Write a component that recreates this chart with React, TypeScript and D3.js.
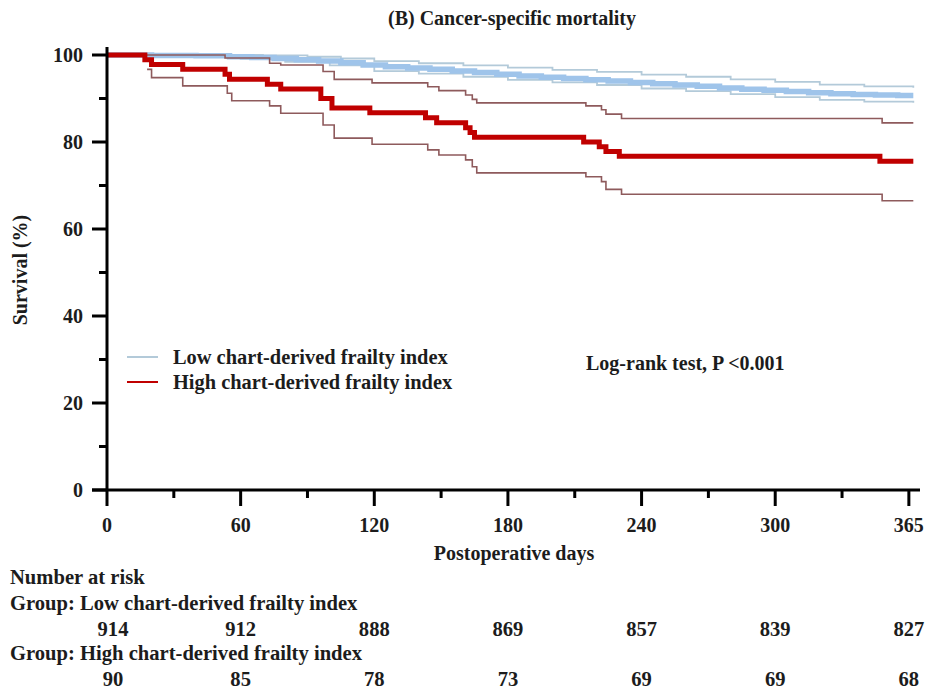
import React from "react";
import * as d3 from "d3";

const title = "(B) Cancer-specific mortality";
const xTicks = [0, 60, 120, 180, 240, 300, 360];
const xTickLabels = ["0", "60", "120", "180", "240", "300", "365"];
const xMinorTicks = [30, 90, 150, 210, 270, 330];
const yTicks = [0, 20, 40, 60, 80, 100];
const yMinorTicks = [10, 30, 50, 70, 90];

// Low chart-derived frailty index (day, survival %)
const lowMain: [number, number][] = [
  [0, 100], [20, 99.9], [40, 99.8], [55, 99.6], [65, 99.4], [75, 99.2], [85, 98.9], [95, 98.6],
  [105, 98.2], [115, 97.7], [125, 97.3], [135, 97.0], [145, 96.7], [155, 96.3], [165, 96.0],
  [175, 95.6], [185, 95.2], [195, 94.9], [205, 94.6], [215, 94.3], [225, 94.0], [235, 93.7],
  [245, 93.4], [255, 93.1], [265, 92.8], [275, 92.4], [285, 92.1], [295, 91.9], [305, 91.6],
  [315, 91.3], [325, 91.1], [335, 90.9], [345, 90.8], [355, 90.7], [362, 90.7],
];
const lowUpper: [number, number][] = [
  [0, 100], [50, 100], [70, 99.9], [90, 99.6], [105, 99.2], [120, 98.6], [140, 98.1], [160, 97.6],
  [180, 97.1], [200, 96.6], [220, 96.1], [240, 95.5], [260, 95.0], [280, 94.4], [300, 93.8],
  [320, 93.2], [340, 92.8], [362, 92.5],
];
const lowLower: [number, number][] = [
  [0, 100], [40, 99.6], [60, 99.1], [80, 98.4], [100, 97.6], [120, 96.3], [140, 95.7], [160, 95.0],
  [180, 94.3], [200, 93.7], [220, 93.1], [240, 92.3], [260, 91.7], [280, 91.0], [300, 90.3],
  [320, 89.7], [340, 89.3], [362, 89.0],
];

// High chart-derived frailty index (day, survival %)
const highMain: [number, number][] = [
  [0, 100], [17, 98.9], [20, 97.8], [34, 96.7], [53, 95.6], [55, 94.4], [72, 93.3], [78, 92.2],
  [96, 90.0], [101, 87.8], [118, 86.7], [143, 85.6], [148, 84.4], [161, 83.3], [163, 82.2],
  [165, 81.1], [214, 80.0], [221, 78.9], [224, 77.8], [230, 76.7], [347, 75.6], [362, 75.6],
];
const highUpper: [number, number][] = [
  [0, 100], [53, 99.3], [73, 98.1], [78, 97.7], [97, 96.2], [102, 94.4], [119, 93.6], [144, 92.7],
  [149, 91.8], [161, 90.8], [164, 89.8], [166, 89.0], [215, 88.3], [222, 87.4], [224, 86.4],
  [231, 85.4], [348, 84.4], [362, 84.4],
];
const highLower: [number, number][] = [
  [18, 96.7], [20, 94.8], [34, 92.9], [54, 91.2], [56, 89.5], [73, 88.3], [78, 86.6], [97, 83.9],
  [102, 80.9], [119, 79.5], [144, 78.2], [149, 77.0], [161, 75.9], [164, 74.3], [166, 72.9],
  [215, 72.0], [222, 70.9], [224, 69.1], [231, 68.0], [348, 66.5], [362, 66.5],
];

const riskTimes = [0, 60, 120, 180, 240, 300, 360];
const riskLow = [914, 912, 888, 869, 857, 839, 827];
const riskHigh = [90, 85, 78, 73, 69, 69, 68];

const FONT = "'Liberation Serif', 'Times New Roman', serif";
const FS = 20;
const FSL = 20.4;
const FSR = 20.6;
const TXT = "#1c1c1c";

export default function App() {
  const W = 930, H = 689;
  const x = d3.scaleLinear().domain([0, 365]).range([107, 920]);
  const y = d3.scaleLinear().domain([0, 100]).range([490, 55]);
  const line = d3
    .line<[number, number]>()
    .x((d) => x(d[0]))
    .y((d) => y(d[1]))
    .curve(d3.curveStepAfter);

  const cLowMain = "#9fc4ea";
  const cLowCI = "#b3cad9";
  const cHighMain = "#c00000";
  const cHighCI = "#8e5a5c";

  return (
    <svg width={W} height={H} style={{ position: "absolute", left: 0, top: 0, background: "#fff" }} fontFamily={FONT}>
      <rect width={W} height={H} fill="#fff" />
      <text x={512} y={25} textAnchor="middle" fontSize={FS} fontWeight="bold" fill={TXT}>{title}</text>

      {/* curves */}
      <path d={line(lowUpper) || ""} fill="none" stroke={cLowCI} strokeWidth={1.8} />
      <path d={line(lowLower) || ""} fill="none" stroke={cLowCI} strokeWidth={1.8} />
      <path d={line(lowMain) || ""} fill="none" stroke={cLowMain} strokeWidth={5.5} />
      <path d={line(highUpper) || ""} fill="none" stroke={cHighCI} strokeWidth={1.6} />
      <path d={line(highLower) || ""} fill="none" stroke={cHighCI} strokeWidth={1.6} />
      <path d={line(highMain) || ""} fill="none" stroke={cHighMain} strokeWidth={5} />

      {/* y axis */}
      <line x1={x(0)} x2={x(0)} y1={47} y2={y(0)} stroke="#000" strokeWidth={3} />
      {yTicks.map((t) => (
        <g key={"yt" + t}>
          <line x1={x(0) - 15} x2={x(0)} y1={y(t)} y2={y(t)} stroke="#000" strokeWidth={3} />
          <text x={83} y={y(t) + 7} textAnchor="end" fontSize={FS} fontWeight="bold" fill={TXT}>{t}</text>
        </g>
      ))}
      {yMinorTicks.map((t) => (
        <line key={"ym" + t} x1={x(0) - 8} x2={x(0)} y1={y(t)} y2={y(t)} stroke="#000" strokeWidth={3} />
      ))}

      {/* x axis */}
      <line x1={x(0) - 15} x2={x(365)} y1={y(0)} y2={y(0)} stroke="#000" strokeWidth={3} />
      {xTicks.map((t, i) => (
        <g key={"xt" + t}>
          <line x1={x(t)} x2={x(t)} y1={y(0)} y2={y(0) + 16} stroke="#000" strokeWidth={3} />
          <text x={x(t)} y={532} textAnchor="middle" fontSize={FS} fontWeight="bold" fill={TXT}>{xTickLabels[i]}</text>
        </g>
      ))}
      {xMinorTicks.map((t) => (
        <line key={"xm" + t} x1={x(t)} x2={x(t)} y1={y(0)} y2={y(0) + 8} stroke="#000" strokeWidth={3} />
      ))}

      <text x={514} y={560} textAnchor="middle" fontSize={FS} fontWeight="bold" fill={TXT}>Postoperative days</text>
      <text transform="translate(27,270) rotate(-90)" textAnchor="middle" fontSize={FS} fontWeight="bold" fill={TXT}>Survival (%)</text>

      {/* legend */}
      <line x1={127} x2={158} y1={357} y2={357} stroke={cLowCI} strokeWidth={2} />
      <text x={173} y={364} fontSize={FSL} fontWeight="bold" fill={TXT}>Low chart-derived frailty index</text>
      <line x1={127} x2={158} y1={382} y2={382} stroke={cHighMain} strokeWidth={2} />
      <text x={173} y={389} fontSize={FSL} fontWeight="bold" fill={TXT}>High chart-derived frailty index</text>
      <text x={586} y={370} fontSize={FS} fontWeight="bold" fill={TXT}>Log-rank test, P &lt;0.001</text>

      {/* risk table */}
      <text x={10} y={584} fontSize={FSR} fontWeight="bold" fill={TXT}>Number at risk</text>
      <text x={10} y={610} fontSize={FSR} fontWeight="bold" fill={TXT}>Group: Low chart-derived frailty index</text>
      {riskLow.map((v, i) => (
        <text key={"rl" + i} x={x(riskTimes[i]) + (i === 0 ? 6 : 0)} y={636} textAnchor="middle" fontSize={FSR} fontWeight="bold" fill={TXT}>{v}</text>
      ))}
      <text x={10} y={660} fontSize={FSR} fontWeight="bold" fill={TXT}>Group: High chart-derived frailty index</text>
      {riskHigh.map((v, i) => (
        <text key={"rh" + i} x={x(riskTimes[i]) + (i === 0 ? 6 : 0)} y={686} textAnchor="middle" fontSize={FSR} fontWeight="bold" fill={TXT}>{v}</text>
      ))}
    </svg>
  );
}
